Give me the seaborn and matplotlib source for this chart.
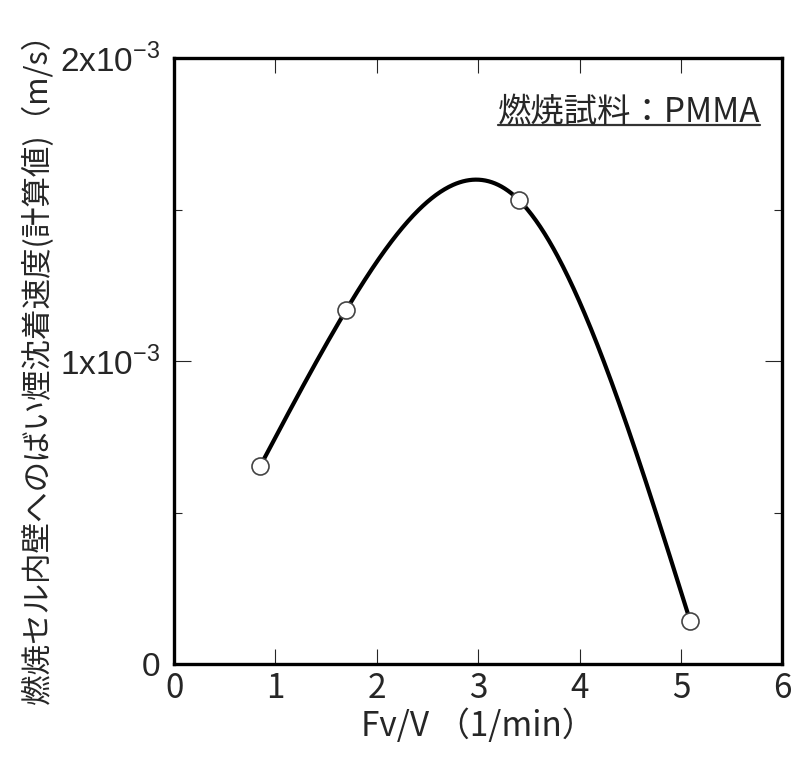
import numpy as np
import pandas as pd
import matplotlib
matplotlib.use("Agg")
import matplotlib.pyplot as plt
import seaborn as sns
from matplotlib.ticker import MultipleLocator, FixedLocator, FixedFormatter

# measured points
fv_v = [0.85, 1.70, 3.40, 5.09]
deposition = [0.655e-3, 1.171e-3, 1.533e-3, 0.145e-3]

x_ticks = [0, 1, 2, 3, 4, 5, 6]
y_ticks = [0, 1e-3, 2e-3]
y_tick_labels = ["0", r"1x10$^{-3}$", r"2x10$^{-3}$"]

df = pd.DataFrame({"x": fv_v, "y": deposition})


def natural_spline(x, y, xs):
    # natural cubic spline through the points
    x = np.asarray(x, float)
    y = np.asarray(y, float)
    n = len(x)
    h = np.diff(x)
    A = np.zeros((n, n))
    b = np.zeros(n)
    A[0, 0] = A[-1, -1] = 1
    for i in range(1, n - 1):
        A[i, i - 1] = h[i - 1]
        A[i, i] = 2 * (h[i - 1] + h[i])
        A[i, i + 1] = h[i]
        b[i] = 6 * ((y[i + 1] - y[i]) / h[i] - (y[i] - y[i - 1]) / h[i - 1])
    m = np.linalg.solve(A, b)
    k = np.clip(np.searchsorted(x, xs) - 1, 0, n - 2)
    t0 = x[k + 1] - xs
    t1 = xs - x[k]
    hk = h[k]
    return (m[k] * t0**3 / (6 * hk) + m[k + 1] * t1**3 / (6 * hk)
            + (y[k] / hk - m[k] * hk / 6) * t0 + (y[k + 1] / hk - m[k + 1] * hk / 6) * t1)


xs = np.linspace(df["x"].min(), df["x"].max(), 400)
curve = pd.DataFrame({"x": xs, "y": natural_spline(df["x"], df["y"], xs)})

sns.set_style("ticks")
plt.rcParams["font.family"] = ["Noto Sans CJK JP", "DejaVu Sans"]
plt.rcParams["mathtext.fontset"] = "custom"
plt.rcParams["mathtext.rm"] = "Liberation Sans"

fig = plt.figure(figsize=(7.95, 7.58), dpi=100)
ax = fig.add_axes([0.219, 0.1234, 0.765, 0.7996])

sns.lineplot(data=curve, x="x", y="y", color="black", linewidth=3.0, ax=ax)
sns.scatterplot(data=df, x="x", y="y", s=150, color="white", edgecolor="#444444",
                linewidth=1.2, zorder=5, ax=ax)

ax.set_xlim(0, 6)
ax.set_ylim(0, 2e-3)
ax.set_xticks(x_ticks)
ax.set_xticklabels([str(t) for t in x_ticks])
ax.yaxis.set_major_locator(FixedLocator(y_ticks))
ax.yaxis.set_major_formatter(FixedFormatter(y_tick_labels))
ax.yaxis.set_minor_locator(MultipleLocator(0.5e-3))
for lab in ax.get_yticklabels():
    lab.set_family("Liberation Sans")

for s in ax.spines.values():
    s.set_linewidth(2.4)
    s.set_color("black")

ax.tick_params(axis="x", which="major", direction="in", length=11, width=0.8,
               top=True, labelsize=24, pad=5)
ax.tick_params(axis="y", which="major", direction="in", length=12, width=0.8,
               right=True, labelsize=24, pad=10)
ax.tick_params(axis="y", which="minor", direction="in", length=6, width=0.8,
               right=True)

ax.set_xlabel("Fv/V （1/min）", fontsize=24, labelpad=2)
ax.set_ylabel("燃焼セル内壁へのばい煙沈着速度(計算値)（m/s）", fontsize=22, labelpad=4)

t = ax.text(0.964, 0.895, "燃焼試料：PMMA", transform=ax.transAxes, ha="right",
            va="baseline", fontsize=24)
fig.canvas.draw()
bb = t.get_window_extent().transformed(ax.transAxes.inverted())
ax.plot([bb.x0, bb.x1], [0.890, 0.890], transform=ax.transAxes, color="#333333",
        linewidth=1.6, clip_on=False)

fig.savefig("out.png", dpi=100)
